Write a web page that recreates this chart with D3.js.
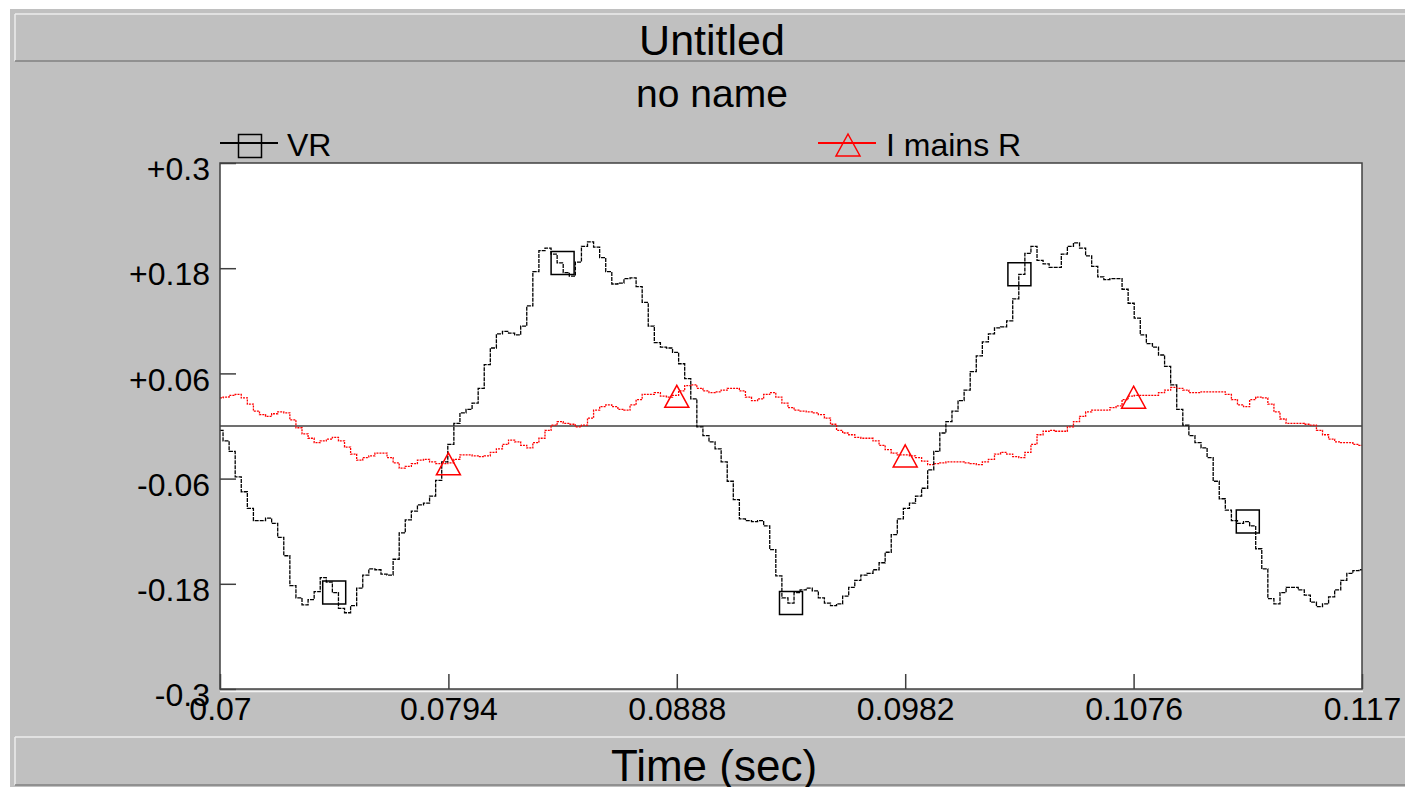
<!DOCTYPE html>
<html>
<head>
<meta charset="utf-8">
<script src="https://cdn.jsdelivr.net/npm/d3@7"></script>
<style>
  html, body { margin: 0; padding: 0; background: #fff; }
  svg { display: block; font-family: "Liberation Sans", Arial, sans-serif; }
</style>
</head>
<body>
<svg id="chart" width="1405" height="787"></svg>
<script>
// waveforms sampled every 0.25 ms starting at t0
const t0 = 0.07;
const dt = 0.00025;

const vr = [
  -0.005,-0.017,-0.029,-0.058,-0.075,-0.094,-0.108,-0.108,-0.105,-0.111,
  -0.127,-0.148,-0.182,-0.196,-0.204,-0.198,-0.189,-0.173,-0.178,-0.190,
  -0.208,-0.213,-0.205,-0.185,-0.170,-0.163,-0.164,-0.169,-0.170,-0.152,
  -0.122,-0.107,-0.097,-0.090,-0.088,-0.080,-0.062,-0.041,-0.021,0.003,
  0.015,0.019,0.026,0.043,0.070,0.089,0.105,0.108,0.106,0.104,
  0.114,0.137,0.176,0.200,0.203,0.196,0.186,0.175,0.171,0.187,
  0.205,0.210,0.204,0.192,0.176,0.162,0.163,0.168,0.169,0.159,
  0.141,0.114,0.095,0.090,0.089,0.084,0.071,0.054,0.031,-0.001,
  -0.011,-0.018,-0.026,-0.041,-0.063,-0.084,-0.106,-0.108,-0.109,-0.108,
  -0.114,-0.141,-0.171,-0.196,-0.202,-0.190,-0.187,-0.185,-0.188,-0.196,
  -0.202,-0.205,-0.203,-0.194,-0.184,-0.176,-0.170,-0.168,-0.164,-0.156,
  -0.144,-0.124,-0.106,-0.094,-0.088,-0.080,-0.071,-0.050,-0.029,-0.008,
  0.005,0.017,0.029,0.041,0.062,0.080,0.096,0.105,0.112,0.113,
  0.120,0.145,0.173,0.197,0.205,0.189,0.185,0.181,0.181,0.196,
  0.205,0.209,0.203,0.194,0.182,0.170,0.167,0.168,0.168,0.156,
  0.140,0.123,0.104,0.094,0.090,0.081,0.068,0.047,0.019,0.001,
  -0.011,-0.019,-0.025,-0.036,-0.063,-0.083,-0.096,-0.108,-0.111,-0.109,
  -0.114,-0.140,-0.163,-0.197,-0.203,-0.190,-0.184,-0.184,-0.187,-0.193,
  -0.201,-0.206,-0.203,-0.195,-0.187,-0.176,-0.168,-0.165,-0.164
];

const iMainsR = [
  0.032,0.033,0.035,0.036,0.032,0.025,0.017,0.013,0.011,0.014,
  0.016,0.015,0.007,-0.002,-0.009,-0.014,-0.019,-0.017,-0.015,-0.013,
  -0.017,-0.024,-0.032,-0.039,-0.036,-0.034,-0.031,-0.031,-0.036,-0.042,
  -0.048,-0.046,-0.043,-0.039,-0.038,-0.041,-0.043,-0.043,-0.042,-0.038,
  -0.033,-0.033,-0.034,-0.035,-0.034,-0.030,-0.026,-0.021,-0.016,-0.018,
  -0.022,-0.025,-0.019,-0.014,-0.005,0.001,0.005,0.003,0.002,-0.001,
  0.001,0.009,0.018,0.022,0.024,0.022,0.019,0.018,0.024,0.030,
  0.036,0.036,0.038,0.034,0.033,0.035,0.040,0.046,0.047,0.043,
  0.040,0.038,0.039,0.041,0.043,0.043,0.040,0.033,0.029,0.031,
  0.036,0.038,0.033,0.026,0.021,0.018,0.017,0.016,0.015,0.013,
  0.009,0.002,-0.005,-0.008,-0.010,-0.013,-0.014,-0.014,-0.017,-0.022,
  -0.027,-0.031,-0.033,-0.033,-0.034,-0.036,-0.040,-0.044,-0.043,-0.042,
  -0.041,-0.041,-0.041,-0.042,-0.043,-0.044,-0.041,-0.038,-0.032,-0.030,
  -0.032,-0.035,-0.036,-0.030,-0.021,-0.010,-0.006,-0.005,-0.006,-0.006,
  -0.001,0.005,0.011,0.016,0.018,0.018,0.018,0.021,0.023,0.030,
  0.034,0.035,0.035,0.035,0.035,0.038,0.041,0.044,0.043,0.041,
  0.038,0.038,0.039,0.039,0.039,0.039,0.036,0.030,0.024,0.022,
  0.030,0.033,0.032,0.025,0.016,0.008,0.003,0.003,0.003,0.002,
  0.001,-0.005,-0.010,-0.015,-0.018,-0.019,-0.019,-0.021,-0.022
];

const xTicks = [0.07, 0.0794, 0.0888, 0.0982, 0.1076, 0.117];
const xTickLabels = ["0.07", "0.0794", "0.0888", "0.0982", "0.1076", "0.117"];
const yTicks = [0.3, 0.18, 0.06, -0.06, -0.18, -0.3];
const yTickLabels = ["+0.3", "+0.18", "+0.06", "-0.06", "-0.18", "-0.3"];

// times where the series symbols sit
const vrMarkers = [0.0747, 0.0841, 0.0935, 0.1029, 0.1123];
const iMarkers = [0.0794, 0.0888, 0.0982, 0.1076];

const seriesNames = ["VR", "I mains R"];
const titleText = "Untitled";
const subtitleText = "no name";
const xTitleText = "Time (sec)";

const W = 1405, H = 787;
const plot = { left: 220, top: 163, right: 1362, bottom: 689 };
const gray = "#c0c0c0", dark = "#404040";

const svg = d3.select("#chart");

// window background + panels
svg.append("rect").attr("width", W).attr("height", H).attr("fill", "#fff");
svg.append("rect").attr("x", 10).attr("y", 9).attr("width", W - 10).attr("height", H - 9).attr("fill", gray);

function panel(y0, y1) {
  svg.append("line").attr("x1", 15).attr("x2", W).attr("y1", y0).attr("y2", y0)
    .attr("stroke", "#ececec").attr("stroke-width", 1.5);
  svg.append("line").attr("x1", 15).attr("x2", 15).attr("y1", y0).attr("y2", y1)
    .attr("stroke", "#ececec").attr("stroke-width", 1.5);
  svg.append("line").attr("x1", 15).attr("x2", W).attr("y1", y1).attr("y2", y1)
    .attr("stroke", "#808080").attr("stroke-width", 1.5);
}
panel(14, 61);
panel(737, 785);

svg.append("text").attr("x", 712).attr("y", 55).attr("text-anchor", "middle")
  .attr("font-size", 43).text(titleText);
svg.append("text").attr("x", 712).attr("y", 107).attr("text-anchor", "middle")
  .attr("font-size", 39).text(subtitleText);
svg.append("text").attr("x", 714).attr("y", 781).attr("text-anchor", "middle")
  .attr("font-size", 44).text(xTitleText);

// scales
const x = d3.scaleLinear().domain([0.07, 0.117]).range([plot.left, plot.right]);
const y = d3.scaleLinear().domain([-0.3, 0.3]).range([plot.bottom, plot.top]);

svg.append("rect")
  .attr("x", plot.left).attr("y", plot.top)
  .attr("width", plot.right - plot.left).attr("height", plot.bottom - plot.top)
  .attr("fill", "#fff");

svg.append("defs").append("clipPath").attr("id", "clip")
  .append("rect")
  .attr("x", plot.left).attr("y", plot.top)
  .attr("width", plot.right - plot.left).attr("height", plot.bottom - plot.top);

// axes, ticks point inward
const yAxis = d3.axisLeft(y)
  .tickValues(yTicks)
  .tickSize(-16)
  .tickPadding(10)
  .tickFormat((d, i) => yTickLabels[i]);

const xAxis = d3.axisBottom(x)
  .tickValues(xTicks)
  .tickSize(-15)
  .tickPadding(8)
  .tickFormat((d, i) => xTickLabels[i]);

const gy = svg.append("g").attr("transform", `translate(${plot.left},0)`).call(yAxis);
const gx = svg.append("g").attr("transform", `translate(0,${plot.bottom})`).call(xAxis);

[gx, gy].forEach(g => {
  g.select(".domain").remove();
  g.selectAll(".tick line").attr("stroke", dark).attr("stroke-width", 1.5);
  g.selectAll(".tick text")
    .attr("fill", "#000")
    .attr("font-size", 32)
    .attr("font-family", "Liberation Sans, Arial, sans-serif");
});
gy.selectAll(".tick text").attr("dy", "0.52em");

// zero line
svg.append("line")
  .attr("x1", plot.left).attr("x2", plot.right)
  .attr("y1", y(0)).attr("y2", y(0))
  .attr("stroke", dark).attr("stroke-width", 1.5);

// series
const toPoints = arr => arr.map((v, i) => ({ t: t0 + i * dt, v: v }));
const line = d3.line()
  .x(d => x(d.t))
  .y(d => y(d.v))
  .curve(d3.curveStep);

const series = [
  { name: seriesNames[0], data: toPoints(vr), color: "#000", markers: vrMarkers, symbol: "square", dash: "4,1" },
  { name: seriesNames[1], data: toPoints(iMainsR), color: "#ff0000", markers: iMarkers, symbol: "triangle", dash: "2,1" }
];

const plotG = svg.append("g").attr("clip-path", "url(#clip)");

plotG.selectAll("path.trace")
  .data(series.slice().reverse())
  .enter()
    .append("path")
    .attr("class", "trace")
    .attr("fill", "none")
    .attr("stroke", d => d.color)
    .attr("stroke-width", 1.3)
    .attr("stroke-dasharray", d => d.dash)
    .attr("d", d => line(d.data));

function valueAt(data, t) {
  const i = Math.max(0, Math.min(data.length - 1, Math.round((t - t0) / dt)));
  return data[i].v;
}

function symbolPath(kind, cx, cy) {
  if (kind === "square") {
    return `M${cx - 11.5},${cy - 11.5}h23v23h-23Z`;
  }
  return `M${cx},${cy - 10}L${cx + 12},${cy + 12}L${cx - 12},${cy + 12}Z`;
}

series.forEach(s => {
  plotG.selectAll(null)
    .data(s.markers)
    .enter()
      .append("path")
      .attr("fill", "none")
      .attr("stroke", s.color)
      .attr("stroke-width", 1.5)
      .attr("d", t => symbolPath(s.symbol, x(t), y(valueAt(s.data, t))));
});

// frame
svg.append("rect")
  .attr("x", plot.left).attr("y", plot.top)
  .attr("width", plot.right - plot.left).attr("height", plot.bottom - plot.top)
  .attr("fill", "none").attr("stroke", dark).attr("stroke-width", 1.5);
svg.append("line")
  .attr("x1", plot.left).attr("x2", plot.right + 1)
  .attr("y1", plot.bottom + 2.5).attr("y2", plot.bottom + 2.5)
  .attr("stroke", "#f4f4f4").attr("stroke-width", 1.5);

// legend
const legendItems = [
  { s: series[0], x0: 220, textX: 287 },
  { s: series[1], x0: 818, textX: 886 }
];
const legendG = svg.append("g");
legendItems.forEach(li => {
  legendG.append("line")
    .attr("x1", li.x0).attr("x2", li.x0 + 58)
    .attr("y1", 143).attr("y2", 143)
    .attr("stroke", li.s.color).attr("stroke-width", 2);
  const cy = li.s.symbol === "square" ? 146 : 144;
  legendG.append("path")
    .attr("fill", "none")
    .attr("stroke", li.s.color)
    .attr("stroke-width", 1.5)
    .attr("d", symbolPath(li.s.symbol, li.x0 + 30, cy));
  legendG.append("text")
    .attr("x", li.textX).attr("y", 156)
    .attr("font-size", 32)
    .text(li.s.name);
});
</script>
</body>
</html>
